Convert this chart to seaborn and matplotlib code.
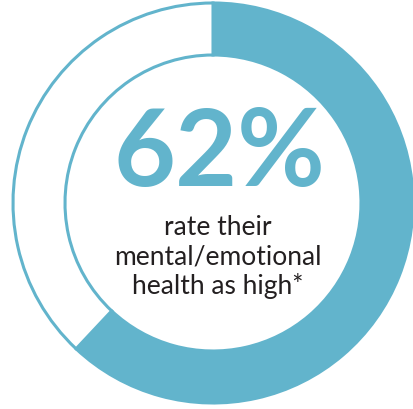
import matplotlib
matplotlib.use("Agg")
import matplotlib.pyplot as plt
import seaborn as sns

# data
labels = ["high", "other"]
shares = [62, 38]
headline = "62%"
caption = ["rate their", "mental/emotional", "health as high*"]

teal = "#62b4cc"
ink = "#231f20"

sns.set_theme(style="white")
plt.rcParams['font.family'] = ['Lato', 'DejaVu Sans']

fig = plt.figure(figsize=(4.13, 4.10), dpi=100)
ax = fig.add_axes([0, 0, 1, 1])

ax.pie(shares, startangle=90, counterclock=False, radius=1.0,
       colors=[teal, "white"],
       wedgeprops=dict(width=0.26, edgecolor=teal, linewidth=2.2))

ax.set_xlim(-213 / 200, 200 / 200)
ax.set_ylim(-206 / 200, 204 / 200)
ax.set_aspect("equal")
ax.axis("off")

ax.text(0.03, 0.245, headline, ha="center", va="center", color=teal,
        fontsize=77, fontweight="bold")
for i, line in enumerate(caption):
    ax.text(0.025, -0.12 - i * 0.145, line, ha="center", va="center",
            color=ink, fontsize=19)

fig.savefig("out.png", dpi=100)
